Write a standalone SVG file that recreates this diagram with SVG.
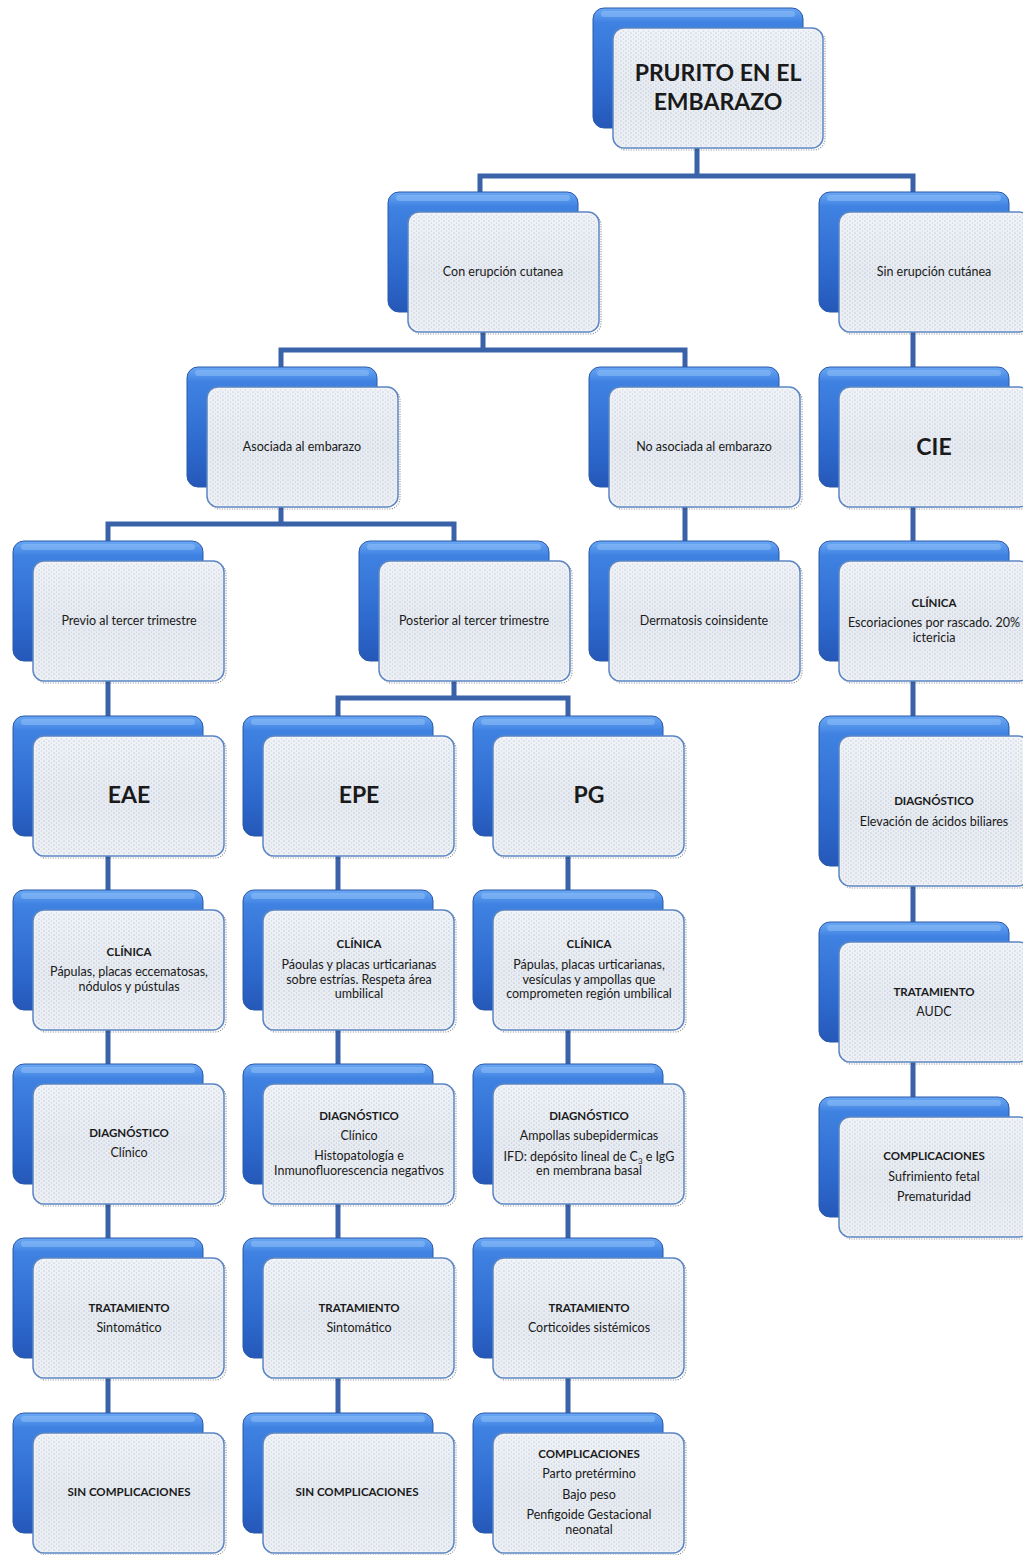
<svg xmlns="http://www.w3.org/2000/svg" xmlns:xlink="http://www.w3.org/1999/xlink" width="1023" height="1555" viewBox="0 0 1023 1555">
<defs>
<linearGradient id="gBack" x1="0" y1="0" x2="0" y2="1">
<stop offset="0" stop-color="#6aa8f4"/>
<stop offset="0.12" stop-color="#3f82e2"/>
<stop offset="0.7" stop-color="#2d68cc"/>
<stop offset="1" stop-color="#2558b8"/>
</linearGradient>
<linearGradient id="gFront" x1="0" y1="0" x2="0" y2="1">
<stop offset="0" stop-color="#f1f3f6"/>
<stop offset="0.5" stop-color="#e8ebef"/>
<stop offset="1" stop-color="#eef0f3"/>
</linearGradient>
<pattern id="pDots" width="5" height="4" patternUnits="userSpaceOnUse">
<circle cx="1" cy="1" r="0.6" fill="#4a78c4" opacity="0.55"/>
<circle cx="3.5" cy="3" r="0.6" fill="#4a78c4" opacity="0.35"/>
</pattern>
<g id="card">
<rect class="bk" x="0" y="0" width="190" height="120" rx="11"/>
<rect class="bkhl" x="8" y="3" width="174" height="6" rx="3"/>
<rect class="sh" x="22" y="22" width="191" height="120" rx="11"/>
<rect class="fr" x="20" y="20" width="191" height="120" rx="11"/>
<rect class="dt" x="22" y="22" width="187" height="116" rx="10"/>
</g>
</defs>
<style>
.bk{fill:url(#gBack);stroke:#2a58a8;stroke-width:1}
.bkhl{fill:#9cc8fa;opacity:0.45}
.sh{fill:none;stroke:#333;stroke-width:1.2;stroke-dasharray:1 1.5;opacity:0.55}
.fr{fill:url(#gFront);stroke:#5b86c4;stroke-width:1.5}
.dt{fill:url(#pDots)}
.ln{fill:none;stroke:#3a62a8;stroke-width:5}
text{font-family:Lato,"Liberation Sans",sans-serif;text-anchor:middle;fill:#1a1a1a}
.t{font-size:12.5px}
.h{font-size:11.5px;font-weight:bold}
.b{font-size:23px;font-weight:bold}
</style>

<g id="connectors">
<path class="ln" d="M697,128 V176 M480,192 V176 H913 V192 M483,312 V350 M281,367 V350 H685 V367 M913,312 V1097 M281,487 V524 M108,541 V524 H454 V541 M685,487 V541 M454,661 V698 M338,716 V698 H568 V716 M108,661 V1413 M338,698 V1413 M568,698 V1413"/>
</g>

<g id="root">
<rect class="bk" x="593" y="8" width="210" height="120" rx="11"/>
<rect class="bkhl" x="601" y="11" width="194" height="6" rx="3"/>
<rect class="sh" x="615" y="30" width="210" height="120" rx="11"/>
<rect class="fr" x="613" y="28" width="210" height="120" rx="11"/>
<rect class="dt" x="615" y="30" width="206" height="116" rx="10"/>
<text class="b" x="718" y="81">PRURITO EN EL</text>
<text class="b" x="718" y="110">EMBARAZO</text>
</g>

<g id="con-erupcion">
<use href="#card" x="388" y="192"/>
<text class="t" x="503" y="276">Con erupción cutanea</text>
</g>
<g id="sin-erupcion">
<use href="#card" x="819" y="192"/>
<text class="t" x="934" y="276">Sin erupción cutánea</text>
</g>
<g id="asociada">
<use href="#card" x="187" y="367"/>
<text class="t" x="302" y="451">Asociada al embarazo</text>
</g>
<g id="no-asociada">
<use href="#card" x="589" y="367"/>
<text class="t" x="704" y="451">No asociada al embarazo</text>
</g>
<g id="cie">
<use href="#card" x="819" y="367"/>
<text class="b" x="934" y="455">CIE</text>
</g>
<g id="previo">
<use href="#card" x="13" y="541"/>
<text class="t" x="129" y="625">Previo al tercer trimestre</text>
</g>
<g id="posterior">
<use href="#card" x="359" y="541"/>
<text class="t" x="474" y="625">Posterior al tercer trimestre</text>
</g>
<g id="dermatosis">
<use href="#card" x="589" y="541"/>
<text class="t" x="704" y="625">Dermatosis coinsidente</text>
</g>
<g id="cie-clinica">
<use href="#card" x="819" y="541"/>
<text class="h" x="934" y="607">CLÍNICA</text>
<text class="t" x="934" y="627">Escoriaciones por rascado. 20%</text>
<text class="t" x="934" y="642">ictericia</text>
</g>
<g id="eae">
<use href="#card" x="13" y="716"/>
<text class="b" x="129" y="803">EAE</text>
</g>
<g id="epe">
<use href="#card" x="243" y="716"/>
<text class="b" x="359" y="803">EPE</text>
</g>
<g id="pg">
<use href="#card" x="473" y="716"/>
<text class="b" x="589" y="803">PG</text>
</g>
<g id="cie-diagnostico">
<rect class="bk" x="819" y="716" width="190" height="150" rx="11"/>
<rect class="bkhl" x="827" y="719" width="174" height="6" rx="3"/>
<rect class="sh" x="841" y="738" width="190" height="150" rx="11"/>
<rect class="fr" x="839" y="736" width="190" height="150" rx="11"/>
<rect class="dt" x="841" y="738" width="186" height="146" rx="10"/>
<text class="h" x="934" y="805">DIAGNÓSTICO</text>
<text class="t" x="934" y="826">Elevación de ácidos biliares</text>
</g>
<g id="eae-clinica">
<use href="#card" x="13" y="890"/>
<text class="h" x="129" y="956">CLÍNICA</text>
<text class="t" x="129" y="976">Pápulas, placas eccematosas,</text>
<text class="t" x="129" y="991">nódulos y pústulas</text>
</g>
<g id="epe-clinica">
<use href="#card" x="243" y="890"/>
<text class="h" x="359" y="948">CLÍNICA</text>
<text class="t" x="359" y="969">Páoulas y placas urticarianas</text>
<text class="t" x="359" y="984">sobre estrías. Respeta área</text>
<text class="t" x="359" y="998">umbilical</text>
</g>
<g id="pg-clinica">
<use href="#card" x="473" y="890"/>
<text class="h" x="589" y="948">CLÍNICA</text>
<text class="t" x="589" y="969">Pápulas, placas urticarianas,</text>
<text class="t" x="589" y="984">vesículas y ampollas que</text>
<text class="t" x="589" y="998">comprometen región umbilical</text>
</g>
<g id="cie-tratamiento">
<use href="#card" x="819" y="922"/>
<text class="h" x="934" y="996">TRATAMIENTO</text>
<text class="t" x="934" y="1016">AUDC</text>
</g>
<g id="eae-diagnostico">
<use href="#card" x="13" y="1064"/>
<text class="h" x="129" y="1137">DIAGNÓSTICO</text>
<text class="t" x="129" y="1157">Clínico</text>
</g>
<g id="epe-diagnostico">
<use href="#card" x="243" y="1064"/>
<text class="h" x="359" y="1120">DIAGNÓSTICO</text>
<text class="t" x="359" y="1140">Clínico</text>
<text class="t" x="359" y="1160">Histopatología e</text>
<text class="t" x="359" y="1175">Inmunofluorescencia negativos</text>
</g>
<g id="pg-diagnostico">
<use href="#card" x="473" y="1064"/>
<text class="h" x="589" y="1120">DIAGNÓSTICO</text>
<text class="t" x="589" y="1140">Ampollas subepidermicas</text>
<text class="t" x="589" y="1161">IFD: depósito lineal de C<tspan font-size="8" dy="3">3</tspan><tspan dy="-3"> e IgG</tspan></text>
<text class="t" x="589" y="1175">en membrana basal</text>
</g>
<g id="cie-complicaciones">
<use href="#card" x="819" y="1097"/>
<text class="h" x="934" y="1160">COMPLICACIONES</text>
<text class="t" x="934" y="1181">Sufrimiento fetal</text>
<text class="t" x="934" y="1201">Prematuridad</text>
</g>
<g id="eae-tratamiento">
<use href="#card" x="13" y="1238"/>
<text class="h" x="129" y="1312">TRATAMIENTO</text>
<text class="t" x="129" y="1332">Sintomático</text>
</g>
<g id="epe-tratamiento">
<use href="#card" x="243" y="1238"/>
<text class="h" x="359" y="1312">TRATAMIENTO</text>
<text class="t" x="359" y="1332">Sintomático</text>
</g>
<g id="pg-tratamiento">
<use href="#card" x="473" y="1238"/>
<text class="h" x="589" y="1312">TRATAMIENTO</text>
<text class="t" x="589" y="1332">Corticoides sistémicos</text>
</g>
<g id="eae-complicaciones">
<use href="#card" x="13" y="1413"/>
<text class="h" x="129" y="1496">SIN COMPLICACIONES</text>
</g>
<g id="epe-complicaciones">
<use href="#card" x="243" y="1413"/>
<text class="h" x="357" y="1496">SIN COMPLICACIONES</text>
</g>
<g id="pg-complicaciones">
<use href="#card" x="473" y="1413"/>
<text class="h" x="589" y="1458">COMPLICACIONES</text>
<text class="t" x="589" y="1478">Parto pretérmino</text>
<text class="t" x="589" y="1499">Bajo peso</text>
<text class="t" x="589" y="1519">Penfigoide Gestacional</text>
<text class="t" x="589" y="1534">neonatal</text>
</g>
</svg>
